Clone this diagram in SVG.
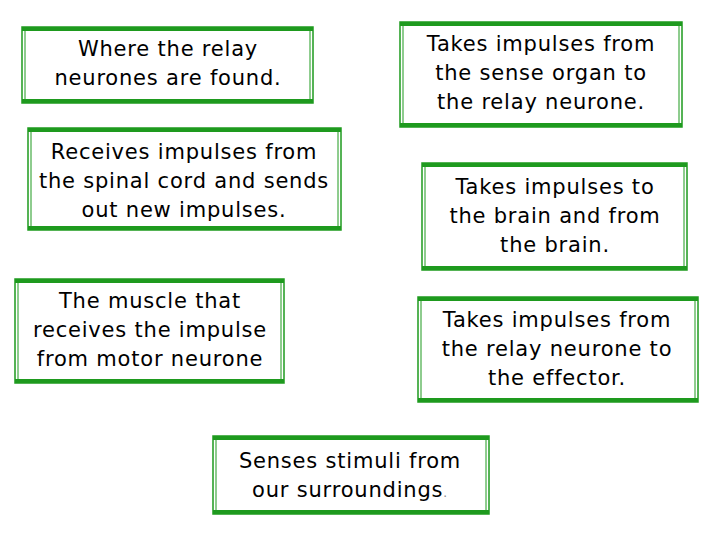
<svg xmlns="http://www.w3.org/2000/svg" width="720" height="540" viewBox="0 0 720 540">
<style>
.o{fill:none;stroke:#1e9a1e;stroke-width:1.5}
.i{fill:#fff;stroke:#1e9a1e;stroke-width:1}
.tb{stroke:#1e9a1e;stroke-width:4}
text{font-family:"DejaVu Sans","Liberation Sans",sans-serif;font-size:21px;letter-spacing:0.8px;fill:#000;text-anchor:middle}
</style>
<rect width="720" height="540" fill="#fff"/>
<g id="n1"><rect class="o" x="22" y="27" width="291" height="76"/><rect class="i" x="25" y="29" width="285" height="72"/><line class="tb" x1="22" y1="29" x2="313" y2="29"/><line class="tb" x1="22" y1="101" x2="313" y2="101"/>
<text x="168" y="56">Where the relay</text><text x="168" y="85">neurones are found.</text></g>
<g id="n2"><rect class="o" x="400" y="22" width="282" height="105"/><rect class="i" x="403" y="24" width="276" height="101"/><line class="tb" x1="400" y1="24" x2="682" y2="24"/><line class="tb" x1="400" y1="125" x2="682" y2="125"/>
<text x="541" y="51">Takes impulses from</text><text x="541" y="80">the sense organ to</text><text x="541" y="109">the relay neurone.</text></g>
<g id="n3"><rect class="o" x="28" y="128" width="313" height="102"/><rect class="i" x="31" y="130" width="307" height="98"/><line class="tb" x1="28" y1="130" x2="341" y2="130"/><line class="tb" x1="28" y1="228" x2="341" y2="228"/>
<text x="184" y="159">Receives impulses from</text><text x="184" y="188">the spinal cord and sends</text><text x="184" y="217">out new impulses.</text></g>
<g id="n4"><rect class="o" x="422" y="163" width="265" height="107"/><rect class="i" x="425" y="165" width="259" height="103"/><line class="tb" x1="422" y1="165" x2="687" y2="165"/><line class="tb" x1="422" y1="268" x2="687" y2="268"/>
<text x="555" y="194">Takes impulses to</text><text x="555" y="223">the brain and from</text><text x="555" y="252">the brain.</text></g>
<g id="n5"><rect class="o" x="15" y="279" width="269" height="104"/><rect class="i" x="18" y="281" width="263" height="100"/><line class="tb" x1="15" y1="281" x2="284" y2="281"/><line class="tb" x1="15" y1="381" x2="284" y2="381"/>
<text x="150" y="308">The muscle that</text><text x="150" y="337">receives the impulse</text><text x="150" y="366">from motor neurone</text></g>
<g id="n6"><rect class="o" x="418" y="297" width="280" height="105"/><rect class="i" x="421" y="299" width="274" height="101"/><line class="tb" x1="418" y1="299" x2="698" y2="299"/><line class="tb" x1="418" y1="400" x2="698" y2="400"/>
<text x="557" y="327">Takes impulses from</text><text x="557" y="356">the relay neurone to</text><text x="557" y="385">the effector.</text></g>
<g id="n7"><rect class="o" x="213" y="436" width="276" height="78"/><rect class="i" x="216" y="438" width="270" height="74"/><line class="tb" x1="213" y1="438" x2="489" y2="438"/><line class="tb" x1="213" y1="512" x2="489" y2="512"/>
<text x="350" y="468">Senses stimuli from</text><text x="350" y="497">our surroundings<tspan fill="#888" font-size="12">.</tspan></text></g>
<g id="connectors"></g>
</svg>
